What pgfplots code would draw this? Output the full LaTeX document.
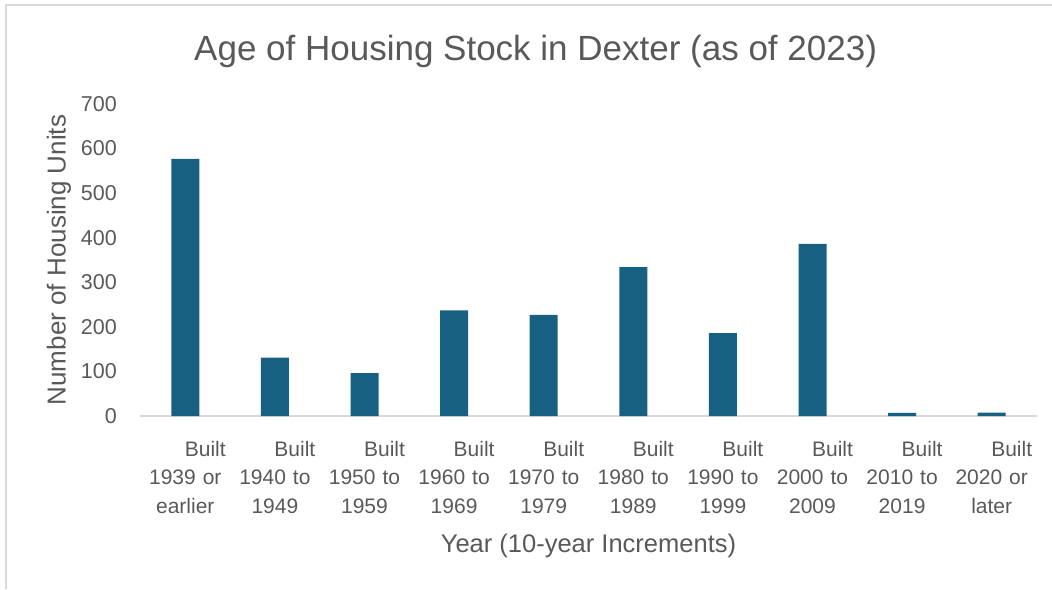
\documentclass[border=0pt]{standalone}
\usepackage{pgfplots}
\pgfplotsset{compat=1.18}
\usepackage{fontspec}
\setmainfont{Liberation Sans}
\definecolor{barC}{RGB}{23,96,130}
\definecolor{txtC}{RGB}{89,89,89}
\definecolor{lineC}{RGB}{217,217,217}
\begin{document}
\begin{tikzpicture}[x=1pt,y=1pt]
\useasboundingbox (0,0) rectangle (1052,589);
\draw[lineC, line width=2pt] (5.5,0) -- (5.5,583.5) -- (1052,583.5);
\begin{axis}[
  at={(140.5pt,173pt)}, anchor=south west,
  scale only axis, width=896pt, height=312pt,
  xmin=-0.5, xmax=9.5, ymin=0, ymax=700,
  axis x line*=bottom, axis y line*=left,
  x axis line style={draw=lineC, line width=1.3pt},
  y axis line style={draw=none},
  major tick length=0pt,
  xtick={0,...,9},
  xticklabels={
    {\hspace*{40pt}Built\\1939 or\\earlier},
    {\hspace*{40pt}Built\\1940 to\\1949},
    {\hspace*{40pt}Built\\1950 to\\1959},
    {\hspace*{40pt}Built\\1960 to\\1969},
    {\hspace*{40pt}Built\\1970 to\\1979},
    {\hspace*{40pt}Built\\1980 to\\1989},
    {\hspace*{40pt}Built\\1990 to\\1999},
    {\hspace*{40pt}Built\\2000 to\\2009},
    {\hspace*{40pt}Built\\2010 to\\2019},
    {\hspace*{40pt}Built\\2020 or\\later}},
  xticklabel style={inner sep=0pt, anchor=north, yshift=-25pt, align=center, text width=88pt,
    font={\fontsize{21}{28.5}\selectfont}, text=txtC},
  ytick={0,100,...,700},
  yticklabel style={inner sep=0pt, anchor=east, xshift=-23.5pt,
    font={\fontsize{21.5}{25}\selectfont}, text=txtC},
  /pgf/number format/assume math mode=true,
  title={Age of Housing Stock in Dexter (as of 2023)},
  every axis title/.style={at={(axis description cs:0.441,1.138)}, anchor=base,
    font={\fontsize{35}{40}\selectfont}, text=txtC, inner sep=0pt},
  xlabel={Year (10-year Increments)},
  xlabel style={at={(axis description cs:0.5,-0.438)}, anchor=base,
    font={\fontsize{25.5}{30}\selectfont}, text=txtC, inner sep=0pt},
  ylabel={Number of Housing Units},
  ylabel style={at={(axis description cs:-0.0836,0.5)}, anchor=base, rotate=0,
    font={\fontsize{26}{30}\selectfont}, text=txtC, inner sep=0pt},
]
\addplot[ybar, bar width=28pt, fill=barC, draw=none] coordinates {
  (0,577) (1,131) (2,96) (3,237) (4,227) (5,334) (6,186) (7,386) (8,7) (9,7.5)
};
\end{axis}
\end{tikzpicture}
\end{document}
